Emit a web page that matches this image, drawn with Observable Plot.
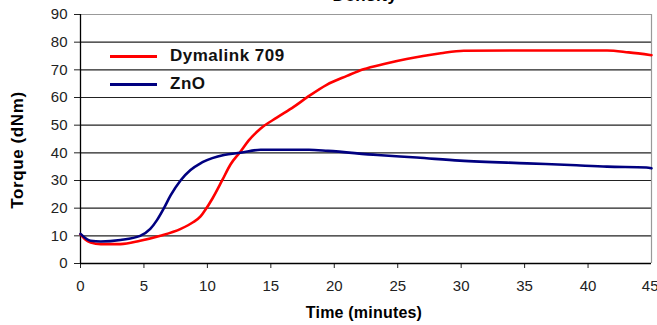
<!DOCTYPE html>
<html>
<head>
<meta charset="utf-8">
<script src="https://cdn.jsdelivr.net/npm/d3@7"></script>
<script src="https://cdn.jsdelivr.net/npm/@observablehq/plot@0.6"></script>
<style>
  html, body { margin: 0; padding: 0; background: #fff; }
  #wrap { position: relative; width: 657px; height: 325px; overflow: hidden; font-family: "Liberation Sans", Arial, sans-serif; }
  #title { position: absolute; left: 0; width: 730px; top: -14px; text-align: center; font-weight: bold; font-size: 17px; letter-spacing: 0.5px; color: #000; }
  #legend { position: absolute; left: 104px; top: 42px; font-weight: bold; font-size: 17px; letter-spacing: 0.5px; color: #111; }
  .li { display: flex; align-items: center; height: 28px; }
  .sw { width: 47px; height: 3px; margin: 0 13px 0 6px; }
  #ylab { position: absolute; left: 18px; top: 150px; transform: translate(-50%, -50%) rotate(-90deg); font-weight: bold; font-size: 17px; letter-spacing: 0.6px; white-space: nowrap; color: #000; }
  #xlab { position: absolute; left: 364px; top: 304px; transform: translateX(-50%); font-weight: bold; font-size: 16px; letter-spacing: 0.2px; white-space: nowrap; color: #000; }
</style>
</head>
<body>
<div id="wrap">
  <div id="title"></div>
  <div id="chart"></div>
  <div id="legend"></div>
  <div id="ylab"></div>
  <div id="xlab"></div>
</div>
<script>
const titleText = "Density";
const xTitle = "Time (minutes)";
const yTitle = "Torque (dNm)";
const seriesNames = ["Dymalink 709", "ZnO"];
const seriesColors = ["#ff0000", "#000080"];
const xTicks = [0, 5, 10, 15, 20, 25, 30, 35, 40, 45];
const yTicks = [0, 10, 20, 30, 40, 50, 60, 70, 80, 90];

const dymalinkTime = [0, 0.4, 0.8, 1.6, 3.15, 4.7, 6.3, 7.9, 8.9, 9.46, 9.72, 10.4, 11.17, 11.82, 12.6, 13.26, 14.2, 15.5, 16.8, 17.9, 19.4, 21, 22.3, 24, 25.7, 27, 28.4, 30.2, 35, 41.5, 43.2, 45];
const dymalinkTorque = [10.5, 8.6, 7.6, 7.0, 7.0, 8.2, 10.0, 12.5, 15.0, 17.0, 18.6, 23.5, 30.1, 35.8, 40.4, 44.5, 48.8, 52.8, 56.6, 60.2, 64.6, 67.8, 70.2, 72.2, 73.9, 75, 76, 76.9, 77, 77, 76.3, 75.3];

const znoTime = [0, 0.8, 1.6, 3.15, 4.7, 5.5, 6.0, 6.55, 7.1, 7.9, 8.67, 9.46, 9.7, 11.3, 12.6, 14.2, 18, 19.5, 23.4, 26.5, 29.9, 35.2, 38.6, 41.5, 44.6, 45];
const znoTorque = [10.7, 8.2, 7.96, 8.5, 10.0, 12.5, 15.5, 19.8, 24.6, 30.1, 33.8, 36.2, 36.8, 39.2, 40.0, 41.1, 41.1, 40.7, 39.2, 38.3, 37.2, 36.2, 35.6, 35.0, 34.7, 34.4];

const rows = [
  ...dymalinkTime.map((t, i) => ({t, v: dymalinkTorque[i], s: seriesNames[0]})),
  ...znoTime.map((t, i) => ({t, v: znoTorque[i], s: seriesNames[1]}))
];

const chart = Plot.plot({
  width: 657,
  height: 325,
  marginLeft: 80,
  marginRight: 6,
  marginTop: 14,
  marginBottom: 62,
  style: { fontFamily: "'Liberation Sans', Arial, sans-serif", fontSize: "15px", background: "#fff", color: "#222" },
  x: { domain: [0, 45], axis: null },
  y: { domain: [0, 90], axis: null },
  color: { domain: seriesNames, range: seriesColors },
  marks: [
    Plot.gridY(yTicks.slice(1, -1), { stroke: "#222", strokeOpacity: 1, strokeWidth: 1.2 }),
    Plot.ruleY([yTicks[yTicks.length - 1]], { stroke: "#999", strokeWidth: 1.2 }),
    Plot.ruleX([xTicks[xTicks.length - 1]], { stroke: "#999", strokeWidth: 1.2 }),
    Plot.axisY(yTicks, { tickSize: 6, tickPadding: 7, fontSize: 15, fill: "#222", stroke: "#222", label: null }),
    Plot.axisX(xTicks.slice(0, -1), { tickSize: 5, tickPadding: 12, fontSize: 15, fill: "#222", stroke: "#222", label: null }),
    Plot.axisX(xTicks.slice(-1), { tickSize: 5, tickPadding: 12, fontSize: 15, fill: "#222", stroke: "#222", label: null, textAnchor: "end", dx: 7 }),
    Plot.ruleX([0], { stroke: "#000", strokeWidth: 1.3 }),
    Plot.ruleY([0], { stroke: "#000", strokeWidth: 1.3 }),
    Plot.line(rows, { x: "t", y: "v", z: "s", stroke: "s", strokeWidth: 2.6, curve: "monotone-x" })
  ]
});
document.getElementById("chart").appendChild(chart);

document.getElementById("title").textContent = titleText;
document.getElementById("xlab").textContent = xTitle;
document.getElementById("ylab").textContent = yTitle;
const legend = document.getElementById("legend");
seriesNames.forEach((n, i) => {
  const row = document.createElement("div");
  row.className = "li";
  const sw = document.createElement("span");
  sw.className = "sw";
  sw.style.background = seriesColors[i];
  const tx = document.createElement("span");
  tx.textContent = n;
  row.appendChild(sw);
  row.appendChild(tx);
  legend.appendChild(row);
});
</script>
</body>
</html>
